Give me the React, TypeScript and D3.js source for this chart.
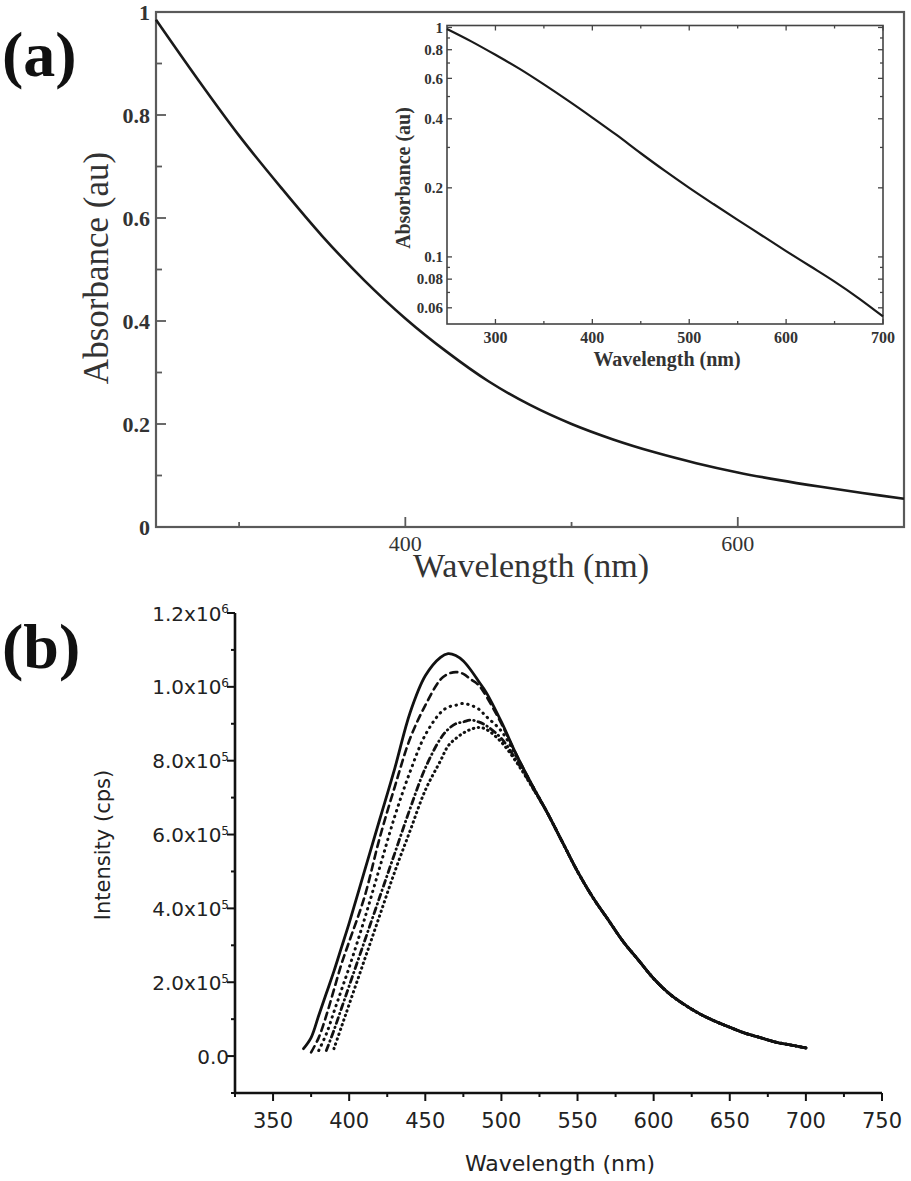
import React, { useEffect, useRef } from "react";
import * as d3 from "d3";

// ---- panel (a): absorbance spectrum ----
const absWavelengths = [250, 275, 300, 325, 350, 375, 400, 425, 450, 475, 500, 525, 550, 575, 600, 625, 650, 675, 700];
const absValues = [0.985, 0.87, 0.76, 0.66, 0.565, 0.48, 0.405, 0.34, 0.283, 0.237, 0.2, 0.17, 0.145, 0.124, 0.106, 0.091, 0.078, 0.066, 0.055];

const absYTicks = [0, 0.2, 0.4, 0.6, 0.8, 1];
const absYMinor = [0.1, 0.3, 0.5, 0.7, 0.9];
const absXTicks = [400, 600];
const absXMinor = [300, 500];

// inset (log scale)
const insetXTicks = [300, 400, 500, 600, 700];
const insetXMinor = [350, 450, 550, 650];
const insetYTicks = [1, 0.8, 0.6, 0.4, 0.2, 0.1, 0.08, 0.06];
const insetYMinor = [0.9, 0.7, 0.5, 0.3, 0.09, 0.07];

// ---- panel (b): emission spectra (values in 1e5 cps) ----
const plWavelengths = [
  370, 375, 380, 385, 390, 395, 400, 410, 420, 430, 440, 450, 460, 465, 470, 475, 480, 485, 490, 500, 510, 520,
  530, 540, 550, 560, 570, 580, 590, 600, 610, 620, 630, 640, 650, 660, 670, 680, 690, 700,
];
const plTail = [6.6, 5.8, 5.0, 4.3, 3.7, 3.1, 2.6, 2.1, 1.7, 1.4, 1.15, 0.95, 0.78, 0.62, 0.5, 0.38, 0.3, 0.22];
const plSolid = [0.2, 0.5, 1.1, 1.7, 2.3, 2.95, 3.6, 5.0, 6.4, 7.8, 9.3, 10.3, 10.8, 10.9, 10.85, 10.7, 10.45, 10.15, 9.85, 9.05, 8.15, 7.35, ...plTail];
const plDashed = [null, 0.1, 0.5, 1.1, 1.8, 2.5, 3.1, 4.3, 5.9, 7.3, 8.6, 9.5, 10.2, 10.35, 10.4, 10.35, 10.2, 10.05, 9.75, 9.0, 8.15, 7.35, ...plTail];
const plDotted = [null, null, 0.15, 0.6, 1.2, 1.8, 2.4, 3.7, 5.1, 6.5, 7.7, 8.7, 9.3, 9.45, 9.5, 9.55, 9.5, 9.4, 9.2, 8.8, 8.1, 7.35, ...plTail];
const plDashDot = [null, null, null, 0.15, 0.7, 1.3, 1.9, 3.1, 4.3, 5.5, 6.7, 7.8, 8.6, 8.85, 9.0, 9.05, 9.1, 9.05, 8.95, 8.6, 8.0, 7.3, ...plTail];
const plShortDot = [null, null, null, null, 0.2, 0.8, 1.4, 2.6, 3.8, 5.0, 6.1, 7.2, 8.0, 8.4, 8.6, 8.75, 8.85, 8.9, 8.85, 8.5, 7.95, 7.3, ...plTail];

const plXTicks = [350, 400, 450, 500, 550, 600, 650, 700, 750];
const plXMinor = [325, 375, 425, 475, 525, 575, 625, 675, 725];
const plYTicks = [0, 2e5, 4e5, 6e5, 8e5, 1e6, 1.2e6];
const plYMantissa = ["0.0", "2.0x10", "4.0x10", "6.0x10", "8.0x10", "1.0x10", "1.2x10"];
const plYExponent = ["", "5", "5", "5", "5", "6", "6"];
const plYMinor = [-1e5, 1e5, 3e5, 5e5, 7e5, 9e5, 1.1e6];

const SERIF = "'Liberation Serif', 'Times New Roman', serif";
const SANS = "'DejaVu Sans', sans-serif";

const App = () => {
  const svgRef = useRef(null);

  useEffect(() => {
    const svg = d3.select(svgRef.current);
    svg.selectAll("*").remove();

    // ================= panel (a) =================
    const xA = d3.scaleLinear().domain([250, 700]).range([156, 904]);
    const yA = d3.scaleLinear().domain([0, 1]).range([527, 12]);
    const gA = svg.append("g");

    gA.append("rect")
      .attr("x", xA(250)).attr("y", yA(1))
      .attr("width", xA(700) - xA(250)).attr("height", yA(0) - yA(1))
      .attr("fill", "none").attr("stroke", "#5a5a5a").attr("stroke-width", 2.2);

    // y ticks (inward)
    gA.selectAll(".ya").data(absYTicks.concat(absYMinor)).join("line")
      .attr("x1", xA(250)).attr("x2", (d) => xA(250) + (absYTicks.includes(d) ? 10 : 6))
      .attr("y1", (d) => yA(d)).attr("y2", (d) => yA(d))
      .attr("stroke", "#5a5a5a").attr("stroke-width", 1.8);
    gA.selectAll(".yal").data(absYTicks).join("text")
      .attr("x", xA(250) - 6).attr("y", (d) => yA(d)).attr("dy", "0.35em")
      .attr("text-anchor", "end").attr("font-family", SERIF).attr("font-size", 22).attr("font-weight", "bold")
      .attr("fill", "#333").text((d) => String(d));

    // x ticks (inward)
    gA.selectAll(".xa").data(absXTicks.concat(absXMinor)).join("line")
      .attr("x1", (d) => xA(d)).attr("x2", (d) => xA(d))
      .attr("y1", yA(0)).attr("y2", (d) => yA(0) - (absXTicks.includes(d) ? 10 : 5))
      .attr("stroke", "#5a5a5a").attr("stroke-width", 1.8);
    gA.selectAll(".xal").data(absXTicks).join("text")
      .attr("x", (d) => xA(d)).attr("y", 551)
      .attr("text-anchor", "middle").attr("font-family", SERIF).attr("font-size", 22)
      .attr("fill", "#333").text((d) => String(d));

    // curve
    const lineA = d3.line<number>()
      .x((d, i) => xA(absWavelengths[i]))
      .y((d) => yA(d))
      .curve(d3.curveCatmullRom);
    gA.append("path").datum(absValues).attr("d", lineA)
      .attr("fill", "none").attr("stroke", "#1a1a1a").attr("stroke-width", 2.6);

    gA.append("text")
      .attr("transform", "translate(108,268) rotate(-90)")
      .attr("text-anchor", "middle").attr("font-family", SERIF).attr("font-size", 35)
      .attr("fill", "#333").text("Absorbance (au)");
    gA.append("text")
      .attr("x", 531).attr("y", 577)
      .attr("text-anchor", "middle").attr("font-family", SERIF).attr("font-size", 34)
      .attr("fill", "#333").text("Wavelength (nm)");
    svg.append("text")
      .attr("x", 2).attr("y", 76)
      .attr("font-family", SERIF).attr("font-size", 64).attr("font-weight", "bold")
      .attr("fill", "#111").text("(a)");

    // ================= inset =================
    const xI = d3.scaleLinear().domain([250, 700]).range([447, 883]);
    const yI = d3.scaleLog().domain([0.051, 1.02]).range([324, 25.5]);
    const gI = svg.append("g");

    gI.append("rect")
      .attr("x", xI(250)).attr("y", yI(1.02))
      .attr("width", xI(700) - xI(250)).attr("height", yI(0.051) - yI(1.02))
      .attr("fill", "none").attr("stroke", "#444").attr("stroke-width", 1.6);

    const iy = insetYTicks.concat(insetYMinor);
    [xI(250), xI(700)].forEach((x0, side) => {
      const dir = side === 0 ? 1 : -1;
      gI.selectAll(null).data(iy).join("line")
        .attr("x1", x0).attr("x2", (d) => x0 + dir * (insetYTicks.includes(d) ? 5 : 3))
        .attr("y1", (d) => yI(d)).attr("y2", (d) => yI(d))
        .attr("stroke", "#444").attr("stroke-width", 1.3);
    });
    const ix = insetXTicks.concat(insetXMinor);
    [yI(0.051), yI(1.02)].forEach((y0, side) => {
      const dir = side === 0 ? -1 : 1;
      gI.selectAll(null).data(ix).join("line")
        .attr("x1", (d) => xI(d)).attr("x2", (d) => xI(d))
        .attr("y1", y0).attr("y2", (d) => y0 + dir * (insetXTicks.includes(d) ? 5 : 3))
        .attr("stroke", "#444").attr("stroke-width", 1.3);
    });
    gI.selectAll(".iyl").data(insetYTicks).join("text")
      .attr("x", xI(250) - 4).attr("y", (d) => yI(d)).attr("dy", "0.35em")
      .attr("text-anchor", "end").attr("font-family", SERIF).attr("font-size", 15).attr("font-weight", "bold")
      .attr("fill", "#333").text((d) => String(d));
    gI.selectAll(".ixl").data(insetXTicks).join("text")
      .attr("x", (d) => xI(d)).attr("y", 343)
      .attr("text-anchor", "middle").attr("font-family", SERIF).attr("font-size", 16).attr("font-weight", "bold")
      .attr("fill", "#333").text((d) => String(d));

    const lineI = d3.line<number>()
      .x((d, i) => xI(absWavelengths[i]))
      .y((d) => yI(d))
      .curve(d3.curveCatmullRom);
    gI.append("path").datum(absValues).attr("d", lineI)
      .attr("fill", "none").attr("stroke", "#1a1a1a").attr("stroke-width", 2.2);

    gI.append("text")
      .attr("transform", "translate(410,178) rotate(-90)")
      .attr("text-anchor", "middle").attr("font-family", SERIF).attr("font-size", 20).attr("font-weight", "bold")
      .attr("fill", "#333").text("Absorbance (au)");
    gI.append("text")
      .attr("x", 667).attr("y", 366)
      .attr("text-anchor", "middle").attr("font-family", SERIF).attr("font-size", 20).attr("font-weight", "bold")
      .attr("fill", "#333").text("Wavelength (nm)");

    // ================= panel (b) =================
    const xB = d3.scaleLinear().domain([325, 750]).range([235, 882]);
    const yB = d3.scaleLinear().domain([-1e5, 1.2e6]).range([1093, 613]);
    const gB = svg.append("g");

    gB.append("path")
      .attr("d", `M${xB(325)},${yB(1.2e6)}V${yB(-1e5)}H${xB(750)}`)
      .attr("fill", "none").attr("stroke", "#111").attr("stroke-width", 2.6);

    gB.selectAll(".yb").data(plYTicks.concat(plYMinor)).join("line")
      .attr("x1", xB(325)).attr("x2", (d) => xB(325) - (plYTicks.includes(d) ? 8 : 4))
      .attr("y1", (d) => yB(d)).attr("y2", (d) => yB(d))
      .attr("stroke", "#111").attr("stroke-width", 2);
    gB.selectAll(".xb").data(plXTicks.concat(plXMinor)).join("line")
      .attr("x1", (d) => xB(d)).attr("x2", (d) => xB(d))
      .attr("y1", yB(-1e5)).attr("y2", (d) => yB(-1e5) + (plXTicks.includes(d) ? 8 : 4))
      .attr("stroke", "#111").attr("stroke-width", 2);

    const yLab = gB.selectAll(".ybl").data(plYTicks).join("text")
      .attr("x", 229).attr("y", (d) => yB(d)).attr("dy", "0.38em")
      .attr("text-anchor", "end").attr("font-family", SANS).attr("font-size", 20)
      .attr("fill", "#222");
    yLab.append("tspan").text((d, i) => plYMantissa[i]);
    yLab.append("tspan").attr("dy", "-0.6em").attr("font-size", 12).text((d, i) => plYExponent[i]);

    gB.selectAll(".xbl").data(plXTicks).join("text")
      .attr("x", (d) => xB(d)).attr("y", 1128)
      .attr("text-anchor", "middle").attr("font-family", SANS).attr("font-size", 21)
      .attr("fill", "#222").text((d) => String(d));

    const plSeries = [
      { values: plSolid, dash: null, width: 2.8 },
      { values: plDashed, dash: "7 5", width: 2.6 },
      { values: plDotted, dash: "0.5 5.5", width: 3 },
      { values: plDashDot, dash: "6 4 0.5 4", width: 2.8 },
      { values: plShortDot, dash: "0.5 4.5", width: 3 },
    ];
    const lineB = d3.line<number | null>()
      .defined((d) => d !== null)
      .x((d, i) => xB(plWavelengths[i]))
      .y((d) => yB((d as number) * 1e5))
      .curve(d3.curveCatmullRom);
    plSeries.forEach((s) => {
      const p = gB.append("path").datum(s.values).attr("d", lineB)
        .attr("fill", "none").attr("stroke", "#111").attr("stroke-width", s.width)
        .attr("stroke-linecap", "round").attr("stroke-linejoin", "round");
      if (s.dash) p.attr("stroke-dasharray", s.dash);
    });

    gB.append("text")
      .attr("transform", "translate(110,845) rotate(-90)")
      .attr("text-anchor", "middle").attr("font-family", SANS).attr("font-size", 21)
      .attr("fill", "#222").text("Intensity (cps)");
    gB.append("text")
      .attr("x", 560).attr("y", 1171)
      .attr("text-anchor", "middle").attr("font-family", SANS).attr("font-size", 22)
      .attr("fill", "#222").text("Wavelength (nm)");
    svg.append("text")
      .attr("x", 2).attr("y", 668)
      .attr("font-family", SERIF).attr("font-size", 64).attr("font-weight", "bold")
      .attr("fill", "#111").text("(b)");
  }, []);

  return (
    <svg
      ref={svgRef}
      width={911}
      height={1181}
      style={{ position: "absolute", left: 0, top: 0, background: "#fff" }}
    ></svg>
  );
};

export default App;
